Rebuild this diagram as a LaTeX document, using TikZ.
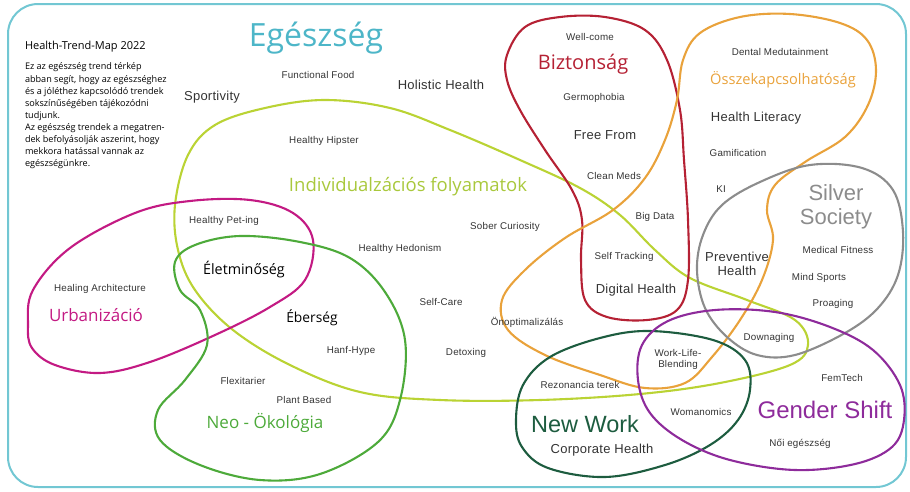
\documentclass[tikz,border=0pt]{standalone}
\usepackage{fontspec}
\setmainfont{Open Sans}
\newfontfamily\labf[LetterSpace=2]{Liberation Sans}
\newfontfamily\catf{Open Sans}
\newfontfamily\grof{Liberation Sans}
\definecolor{cteal}{HTML}{72C7D3}
\definecolor{ctealtx}{HTML}{4DB6C8}
\definecolor{cyel}{HTML}{BAD334}
\definecolor{cyeltx}{HTML}{A9C83C}
\definecolor{cmag}{HTML}{C31A83}
\definecolor{cgrn}{HTML}{4DAA3A}
\definecolor{cred}{HTML}{B52134}
\definecolor{corg}{HTML}{E9A23B}
\definecolor{cgry}{HTML}{8C8C8C}
\definecolor{cdgr}{HTML}{1D5C3F}
\definecolor{cpur}{HTML}{8E2B9B}
\definecolor{ctxt}{HTML}{333333}
\begin{document}
\begin{tikzpicture}[x=1pt,y=-1pt,
  every node/.style={inner sep=0pt, outer sep=0pt, text=ctxt},
  sm/.style={font={\labf\fontsize{9.8}{9.8}\selectfont}},
  md/.style={font={\labf\fontsize{13}{13}\selectfont}},
  hum/.style={font={\catf\fontsize{#1}{#1}\selectfont}},
  gro/.style={font={\grof\fontsize{#1}{#1}\selectfont}},
  blob/.style={line width=2.1pt, line join=round}
]
\useasboundingbox (0,0) rectangle (910,491);
% frame
\draw[cteal, line width=2pt, rounded corners=30pt] (8,4) rectangle (906,487);

% Individualizacio (yellow-green)
\draw[blob, cyel] plot[smooth cycle, tension=0.6] coordinates {
 (175,205) (178,250) (195,290) (233,330) (290,365) (360,392) (440,400) (540,400)
 (640,394) (720,383) (790,365) (808,345) (795,320) (747,300) (690,278) (655,250)
 (620,215) (580,188) (520,160) (450,130) (390,108) (325,100) (265,108) (215,125) (188,155)};
% Urbanizacio (magenta)
\draw[blob, cmag] plot[smooth cycle, tension=0.6] coordinates {
 (28,325) (33,290) (70,248) (135,213) (190,201) (250,200) (293,213) (313,240)
 (305,280) (270,307) (215,335) (150,362) (100,373) (55,365) (32,348)};
% Neo-Okologia (green)
\draw[blob, cgrn] plot[smooth cycle, tension=0.6] coordinates {
 (175,262) (195,245) (240,236) (300,242) (350,258) (385,292) (405,340) (400,400)
 (378,442) (320,474) (260,480) (200,465) (160,440) (158,410) (185,380) (207,345)
 (200,310) (180,290)};
% Biztonsag (red)
\draw[blob, cred] plot[smooth cycle, tension=0.6] coordinates {
 (507,55) (525,27) (560,17) (605,17) (645,30) (667,60) (680,110) (684,160)
 (688,220) (688,280) (677,310) (647,320) (607,317) (585,300) (581,260) (582,220)
 (572,190) (545,150) (520,110) (507,80)};
% Osszekapcsolhatosag (orange)
\draw[blob, corg] plot[smooth cycle, tension=0.6] coordinates {
 (677,100) (683,60) (700,33) (740,17) (790,14) (840,23) (867,40) (876,70)
 (868,105) (845,137) (805,162) (775,185) (767,210) (773,240) (762,280) (740,320)
 (712,357) (685,383) (645,388) (600,375) (545,355) (508,330) (502,300) (525,270)
 (565,238) (613,210) (645,178) (665,140)};
% Silver Society (gray)
\draw[blob, cgry] plot[smooth cycle, tension=0.6] coordinates {
 (697,270) (703,235) (722,205) (760,182) (810,165) (862,168) (893,190) (903,232)
 (898,275) (878,308) (845,333) (795,355) (757,355) (727,337) (705,308)};
% New Work (dark green)
\draw[blob, cdgr] plot[smooth cycle, tension=0.6] coordinates {
 (516,420) (523,385) (550,357) (600,338) (650,331) (713,340) (745,360) (750,390)
 (738,420) (710,445) (665,465) (605,477) (548,468) (522,447)};
% Gender Shift (purple)
\draw[blob, cpur] plot[smooth cycle, tension=0.6] coordinates {
 (638,380) (642,345) (668,321) (715,310) (775,312) (830,327) (873,350) (900,385)
 (904,420) (892,447) (855,464) (795,470) (730,460) (682,440) (650,413)};

% intro text
\node[anchor=west, hum=11, text=black] (title) at (25,47) {Health-Trend-Map 2022};
\node[anchor=north west, align=left, text=black, font={\catf\fontsize{9.1}{12.1}\selectfont}] (intro) at (25,63)
 {Ez az egészség trend térkép\\ abban segít, hogy az egészséghez\\ és a jóléthez kapcsolódó trendek\\ sokszínűségében tájékozódni\\ tudjunk.\\ Az egészség trendek a megatren-\\ dek befolyásolják aszerint, hogy\\ mekkora hatással vannak az\\ egészségünkre.};

% category labels
\node[hum=32, text=ctealtx] (egesz) at (316,38) {Egészség};
\node[hum=18.5, text=cyeltx] (indiv) at (408,187) {Individualzációs folyamatok};
\node[hum=20, text=cred] (bizt) at (583,64) {Biztonság};
\node[hum=14.6, text=corg] (ossze) at (783,80) {Összekapcsolhatóság};
\node[text=cgry, align=center, font={\grof\fontsize{22}{24.5}\selectfont}] (silver) at (836,207) {Silver\\Society};
\node[gro=24, text=cpur] (gender) at (825,410) {Gender Shift};
\node[gro=23.5, text=cdgr] (newwork) at (585,424) {New Work};
\node[hum=17, text=cmag] (urban) at (96,315) {Urbanizáció};
\node[hum=17, text=cgrn] (neo) at (265,423) {Neo - Ökológia};
\node[hum=14.3, text=black] (elet) at (244,270) {Életminőség};
\node[hum=13.8, text=black] (eber) at (312,318) {Éberség};

% medium trends
\node[md] (sport) at (212,97) {Sportivity};
\node[md] (holistic) at (441,85) {Holistic Health};
\node[md] (free) at (605,135) {Free From};
\node[md] (literacy) at (756,118) {Health Literacy};
\node[md] (digital) at (636,290) {Digital Health};
\node[md, align=center, font={\labf\fontsize{13}{13.5}\selectfont}] (prev) at (737,264) {Preventive\\Health};
\node[md] (corp) at (602,450) {Corporate Health};

% small trends
\node[sm] (func) at (318,75) {Functional Food};
\node[sm] (hipster) at (324,141) {Healthy Hipster};
\node[sm] (wellcome) at (590,37) {Well-come};
\node[sm] (germo) at (594,98) {Germophobia};
\node[sm] (clean) at (614,176) {Clean Meds};
\node[sm] (bigdata) at (655,217) {Big Data};
\node[sm] (selftrack) at (624,257) {Self Tracking};
\node[sm] (dental) at (780,52) {Dental Medutainment};
\node[sm] (gamif) at (738,153) {Gamification};
\node[sm] (ki) at (721,189) {KI};
\node[sm] (medfit) at (838,250) {Medical Fitness};
\node[sm] (mind) at (819,278) {Mind Sports};
\node[sm] (proag) at (833,304) {Proaging};
\node[sm] (downag) at (769,338) {Downaging};
\node[sm, align=center, font={\labf\fontsize{9.8}{11}\selectfont}] (wlb) at (678,359) {Work-Life-\\Blending};
\node[sm] (femtech) at (842,378) {FemTech};
\node[sm] (woman) at (701,412) {Womanomics};
\node[sm] (noi) at (800,444) {Női egészség};
\node[sm] (rezon) at (580,385) {Rezonancia terek};
\node[sm] (onopt) at (527,322) {Önoptimalizálás};
\node[sm] (detox) at (466,353) {Detoxing};
\node[sm] (selfcare) at (441,302) {Self-Care};
\node[sm] (hedon) at (400,249) {Healthy Hedonism};
\node[sm] (sober) at (505,227) {Sober Curiosity};
\node[sm] (hanf) at (351,351) {Hanf-Hype};
\node[sm] (petting) at (224,221) {Healthy Pet-ing};
\node[sm] (healing) at (100,289) {Healing Architecture};
\node[sm] (flexi) at (243,381) {Flexitarier};
\node[sm] (plant) at (304,400) {Plant Based};
\end{tikzpicture}
\end{document}
